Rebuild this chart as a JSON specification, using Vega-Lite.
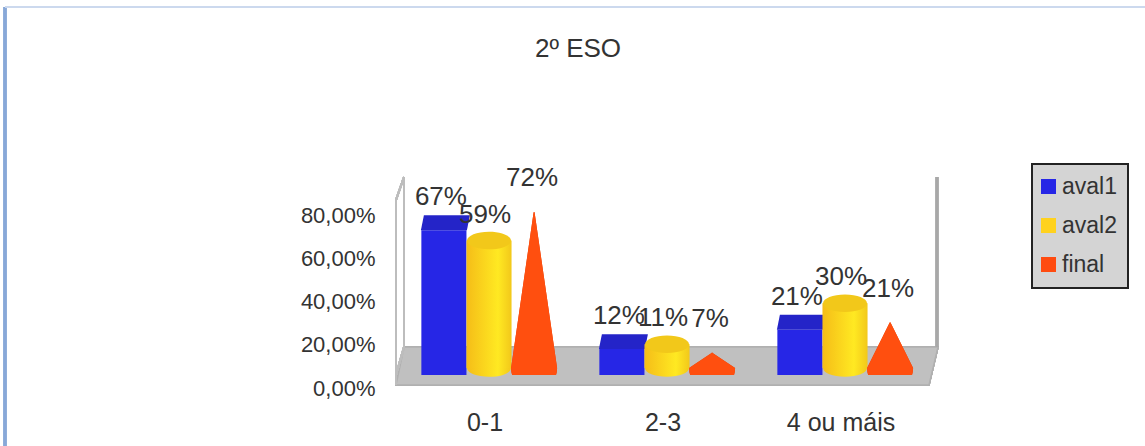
{
"$schema":"https://vega.github.io/schema/vega-lite/v6.json",
"width":534,"height":198,
"autosize":{"type":"none"},
"padding":{"left":400,"top":177,"right":211,"bottom":71},
"background":"white",
"title":{"text":"2º ESO","anchor":"middle","dx":-89,"offset":-60,"font":"Liberation Sans","fontSize":26,"fontWeight":"normal","color":"#333333"},
"config":{"view":{"stroke":null},"legend":{"strokeWidth":2},"font":"Liberation Sans"},
"data":{"values":[
{"category":"0-1","series":"aval1","value":67,"base":0,"label":"67%"},
{"category":"0-1","series":"aval2","value":59,"base":0,"label":"59%"},
{"category":"0-1","series":"final","value":72,"base":0,"label":"72%"},
{"category":"2-3","series":"aval1","value":12,"base":0,"label":"12%"},
{"category":"2-3","series":"aval2","value":11,"base":0,"label":"11%"},
{"category":"2-3","series":"final","value":7,"base":0,"label":"7%"},
{"category":"4 ou máis","series":"aval1","value":21,"base":0,"label":"21%"},
{"category":"4 ou máis","series":"aval2","value":30,"base":0,"label":"30%"},
{"category":"4 ou máis","series":"final","value":21,"base":0,"label":"21%"}
]},
"encoding":{
"x":{"field":"category","type":"nominal","title":null,"scale":{"domain":["0-1","2-3","4 ou máis"],"paddingInner":0.24,"paddingOuter":0.12},
"axis":{"domain":false,"ticks":false,"labelAngle":0,"labelPadding":47,"labelOffset":-4,"labelFontSize":25,"labelColor":"#333333","labelFont":"Liberation Sans","labelBaseline":"middle"}},
"xOffset":{"field":"series","type":"nominal","scale":{"domain":["aval1","aval2","final"]}},
"y":{"field":"value","type":"quantitative","title":null,"scale":{"domain":[0,91.67],"nice":false},
"axis":{"values":[0,20,40,60,80],"grid":false,"domain":false,"ticks":false,"labelPadding":25,"labelOffset":13,"labelFontSize":22,"labelColor":"#333333","labelFont":"Liberation Sans","labelExpr":"replace(format(datum.value,'.2f'),'.',',')+'%'"}}
},
"layer":[
{"mark":{"type":"point","filled":true,"opacity":1,"size":40000,"color":"#c0c0c0","stroke":"#b0b0b0","strokeWidth":1.5,"shape":"M-2.63,-0.28L2.71,-0.28L2.62,0.10L-2.71,0.10Z"},
 "encoding":{"x":{"datum":"2-3"},"y":{"datum":0},"xOffset":{"datum":"aval2"}}},
{"mark":{"type":"point","filled":false,"opacity":1,"size":40000,"stroke":"#a8a8a8","strokeWidth":2.5,"shape":"M2.70,-1.98L2.70,-0.28"},
 "encoding":{"x":{"datum":"2-3"},"y":{"datum":0},"xOffset":{"datum":"aval2"}}},
{"mark":{"type":"point","filled":false,"opacity":1,"size":40000,"stroke":"#bdbdbd","strokeWidth":2,"shape":"M-2.63,-1.98L-2.63,-0.28L-2.71,0M-2.63,-1.98L-2.71,-1.75L-2.71,0.1"},
 "encoding":{"x":{"datum":"2-3"},"y":{"datum":0},"xOffset":{"datum":"aval2"}}},
{"mark":{"type":"point","filled":false,"opacity":1,"size":40000,"stroke":"#88a8d8","strokeWidth":2.5,"shape":"M-6.62,0.71L-6.62,-3.68"},
 "encoding":{"x":{"datum":"2-3"},"y":{"datum":0},"xOffset":{"datum":"aval2"}}},
{"mark":{"type":"point","filled":false,"opacity":1,"size":40000,"stroke":"#ccd9ee","strokeWidth":2,"shape":"M-6.62,-3.68L4.78,-3.68"},
 "encoding":{"x":{"datum":"2-3"},"y":{"datum":0},"xOffset":{"datum":"aval2"}}},
{"transform":[{"filter":"datum.series==='aval1'"}],
 "mark":{"type":"bar"},
 "encoding":{"color":{"field":"series","type":"nominal","scale":{"domain":["aval1","aval2","final"],"range":["#2626e6","#ffd21e","#ff4b10"]},
   "legend":{"title":null,"orient":"none","legendX":632,"legendY":-13,"fillColor":"#d4d4d4","strokeColor":"#222222","padding":11,"symbolType":"square","symbolSize":225,"symbolStrokeWidth":0,"symbolOffset":-6,"rowPadding":15,"labelFontSize":23,"labelColor":"#333333","labelFont":"Liberation Sans","labelOffset":2,"values":["aval1","aval2","final"]}}}},
{"transform":[{"filter":"datum.series==='aval1'"}],
 "mark":{"type":"point","filled":true,"opacity":1,"size":2116,"color":"#2424c8","shape":"M-1,0L1,0L1.13,-0.65L-0.87,-0.65Z"}},
{"transform":[{"filter":"datum.series==='aval2'"}],
 "mark":{"type":"point","filled":true,"opacity":1,"size":1936,"yOffset":-7,"shape":"M-1,0A1,0.4 0 1 1 1,0A1,0.4 0 1 1 -1,0Z",
   "color":{"gradient":"linear","x1":0,"x2":1,"y1":0,"y2":0,"stops":[{"offset":0,"color":"#f5bd18"},{"offset":0.7,"color":"#ffe922"},{"offset":1,"color":"#f2c81a"}]}},
 "encoding":{"y":{"datum":0}}},
{"transform":[{"filter":"datum.series==='aval2'"}],
 "mark":{"type":"bar","yOffset":-7,"y2Offset":-7,
   "color":{"gradient":"linear","x1":0,"x2":1,"y1":0,"y2":0,"stops":[{"offset":0,"color":"#f5bd18"},{"offset":0.7,"color":"#ffe922"},{"offset":1,"color":"#f2c81a"}]}}},
{"transform":[{"filter":"datum.series==='aval2'"}],
 "mark":{"type":"point","filled":true,"opacity":1,"size":1936,"yOffset":-7,"color":"#f2c81a","shape":"M-1,0A1,0.4 0 1 1 1,0A1,0.4 0 1 1 -1,0Z"}},
{"transform":[{"filter":"datum.series==='final'"},{"fold":["base","value"],"as":["end","v"]}],
 "mark":{"type":"trail","clip":true,"color":"#de430c","yOffset":-7,"xOffset":2},
 "encoding":{"y":{"field":"v","type":"quantitative"},"detail":{"field":"category"},"order":{"field":"v","type":"quantitative"},
   "size":{"field":"end","type":"ordinal","legend":null,"scale":{"domain":["base","value"],"range":[46,0]}}}},
{"transform":[{"filter":"datum.series==='final'"},{"fold":["base","value"],"as":["end","v"]}],
 "mark":{"type":"trail","clip":true,"color":"#ff4f0f","yOffset":-7,"xOffset":-5},
 "encoding":{"y":{"field":"v","type":"quantitative"},"detail":{"field":"category"},"order":{"field":"v","type":"quantitative"},
   "size":{"field":"end","type":"ordinal","legend":null,"scale":{"domain":["base","value"],"range":[40,0]}}}},
{"transform":[{"filter":"datum.series==='aval1'"}],
 "mark":{"type":"text","font":"Liberation Sans","fontSize":26,"color":"#333333","baseline":"middle","dy":-33,"dx":-3},
 "encoding":{"text":{"field":"label","type":"nominal"}}},
{"transform":[{"filter":"datum.series==='aval2'"}],
 "mark":{"type":"text","font":"Liberation Sans","fontSize":26,"color":"#333333","baseline":"middle","dy":-33,"dx":-4},
 "encoding":{"text":{"field":"label","type":"nominal"}}},
{"transform":[{"filter":"datum.series==='final'"}],
 "mark":{"type":"text","font":"Liberation Sans","fontSize":26,"color":"#333333","baseline":"middle","dy":-41,"dx":-2},
 "encoding":{"text":{"field":"label","type":"nominal"}}}
]
}
